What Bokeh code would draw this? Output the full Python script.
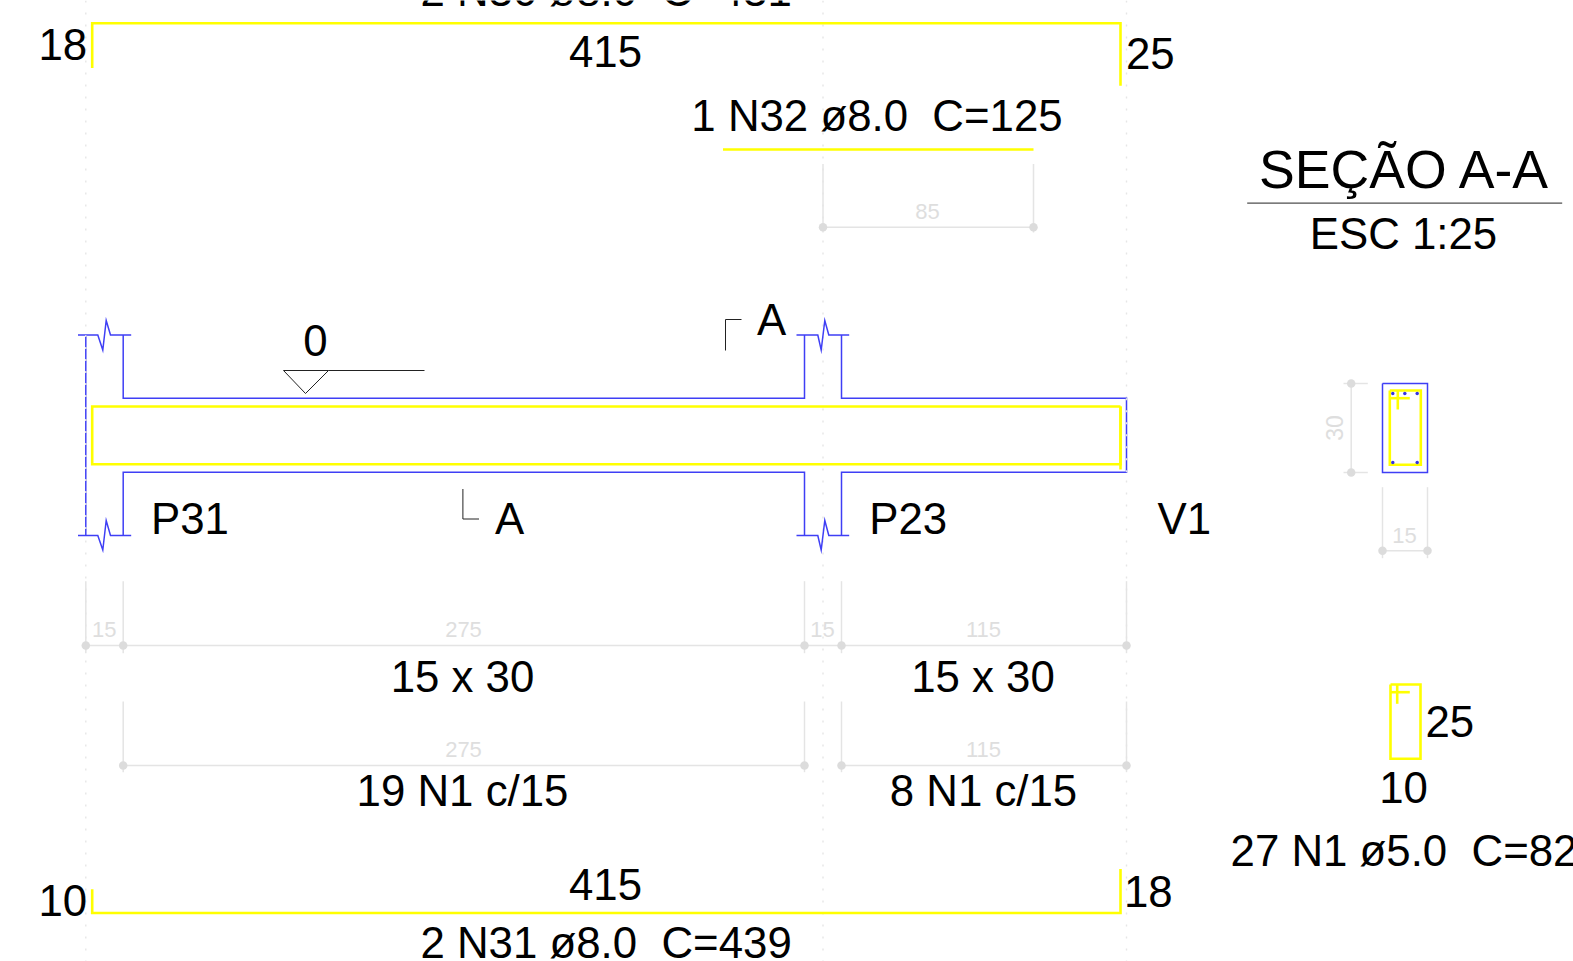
from bokeh.plotting import figure
from bokeh.embed import file_html
from bokeh.resources import INLINE
from bokeh.core.properties import value

# Drawing geometry (polylines: xs, ys)
blue_lines = [
    ([77.5, 97.3, 102.3, 105.7, 110, 130.7], [334.5, 334.5, 349.5, 320, 334.5, 334.5]),
    ([77.5, 97.3, 102.3, 105.7, 110, 130.7], [535, 535, 549.5, 520, 535, 535]),
    ([85.3, 85.3], [334.5, 535]),
    ([122.7, 122.7, 804, 804], [334.5, 397.7, 397.7, 334.5]),
    ([122.7, 122.7, 804, 804], [535, 471.7, 471.7, 535]),
    ([796, 817.3, 820.7, 824.3, 828.3, 848.7], [334.5, 334.5, 349.5, 320, 334.5, 334.5]),
    ([796, 817.3, 820.7, 824.3, 828.3, 848.7], [535, 535, 549.5, 520, 535, 535]),
    ([841, 841, 1126, 1126, 841, 841], [334.5, 397.7, 397.7, 471.7, 471.7, 535]),
    ([1382, 1427, 1427, 1382, 1382], [383, 383, 472, 472, 383]),
]
yellow_lines = [
    ([91.7, 91.7, 1120, 1120], [67.5, 22.7, 22.7, 85.3]),
    ([722.5, 1033], [149, 149]),
    ([1120, 91.7, 91.7, 1120, 1120], [406, 406, 463.7, 463.7, 406]),
    ([1120, 1120], [406, 469]),
    ([91.7, 91.7, 1120, 1120], [888.7, 912.5, 912.5, 868.6]),
    ([1389.3, 1420.3, 1420.3, 1389.3, 1389.3], [390, 390, 464.3, 464.3, 390]),
    ([1389.3, 1409.3], [397.7, 397.7]),
    ([1397.3, 1397.3], [390, 409]),
    ([1390, 1420, 1420, 1390, 1390], [684, 684, 758.3, 758.3, 684]),
    ([1390, 1409.3], [691.7, 691.7]),
    ([1396.7, 1396.7], [684, 703.3]),
]
black_lines = [
    ([283, 328, 305, 283], [370, 370, 393, 370]),
    ([328, 424], [370, 370]),
    ([725, 725, 741], [350, 319, 319]),
    ([462.4, 462.4, 478.5], [488.5, 518.5, 518.5]),
    ([1246.7, 1561.7], [202.6, 202.6]),
]
gray_lines = [
    ([822.5, 822.5], [163.5, 232]), ([1033, 1033], [163.5, 232]), ([822.5, 1033], [226.7, 226.7]),
    ([85.3, 85.3], [580.7, 652.7]), ([122.7, 122.7], [580.7, 652.7]), ([804, 804], [580.7, 652.7]),
    ([841, 841], [580.7, 652.7]), ([1126, 1126], [580.7, 652.7]), ([85.3, 1126], [645, 645]),
    ([122.7, 122.7], [701, 771.7]), ([804, 804], [701, 771.7]), ([841, 841], [701, 771.7]),
    ([1126, 1126], [701, 771.7]), ([122.7, 804], [765, 765]), ([841, 1126], [765, 765]),
    ([1350.7, 1350.7], [383, 472]), ([1343, 1367.3], [383, 383]), ([1343, 1367.3], [472, 472]),
    ([1382, 1382], [486.7, 557.7]), ([1427, 1427], [486.7, 557.7]), ([1382, 1427], [550.3, 550.3]),
]
dotted_x = [85.3, 822.5, 1126]
dim_dot_x = [822.5, 1033, 85.3, 122.7, 804, 841, 1126, 122.7, 804, 841, 1126, 1350.7, 1350.7, 1382, 1427]
dim_dot_y = [226.7, 226.7, 645, 645, 645, 645, 645, 765, 765, 765, 765, 383, 472, 550.3, 550.3]
rebar_x = [1392.3, 1404.3, 1416.7, 1392.3, 1416.7]
rebar_y = [393, 393, 393, 462, 462]

# Labels: text, x, y (alphabetic baseline)
center_labels = [
    ("2 N30 ø8.0\u00a0\u00a0C=431", 605.6, 7.5), ("415", 605, 68.5),
    ("1 N32 ø8.0\u00a0\u00a0C=125", 876.5, 132), ("ESC 1:25", 1403, 250.5),
    ("A", 771, 336.5), ("0", 315, 357), ("A", 509, 535.5),
    ("15 x 30", 462, 693.5), ("15 x 30", 982.5, 693.5),
    ("19 N1 c/15", 462, 807), ("8 N1 c/15", 983, 807),
    ("10", 1403, 804), ("27 N1 ø5.0\u00a0\u00a0C=82", 1403.5, 867.5),
    ("415", 605, 901), ("2 N31 ø8.0\u00a0\u00a0C=439", 605.6, 959),
    ("18", 62.3, 61), ("10", 62.3, 917),
]
left_labels = [
    ("25", 1125.5, 70.5), ("P31", 150.5, 535.5), ("P23", 868.8, 535.5), ("V1", 1157, 535.5),
    ("25", 1425, 738), ("18", 1123.5, 908),
]
dim_labels = [
    ("85", 927, 220), ("15", 103.7, 637.5), ("275", 463, 637.5), ("15", 822, 637.5), ("115", 983, 637.5),
    ("275", 463, 757.5), ("115", 983, 757.5), ("15", 1404, 544),
]
rot_label = ("30", 1334, 427.5)
title_label = ("SEÇÃO A-A", 1404.5, 189.5)

FONT = value("Liberation Sans")
DOT = "2 10"
p = figure(width=1573, height=961, x_range=(0, 1573), y_range=(961, 0),
           output_backend="svg", toolbar_location=None, min_border=0,
           x_axis_type=None, y_axis_type=None, background_fill_color="white",
           border_fill_color="white", outline_line_color=None)
p.grid.visible = False
p.styles = {"position": "absolute", "left": "0px", "top": "0px"}

for x in dotted_x:
    p.line([x, x], [0, 961], line_color="#e6e6e6", line_width=1.4, line_dash=DOT)
for xs, ys in gray_lines:
    p.line(xs, ys, line_color="#e4e4e4", line_width=1.5)
p.scatter(dim_dot_x, dim_dot_y, size=8.5, color="#dcdcdc", line_color=None)
for xs, ys in black_lines:
    p.line(xs, ys, line_color="#222222", line_width=1)
for xs, ys in yellow_lines:
    p.line(xs, ys, line_color="#ffff00", line_width=2.6, line_join="miter")
for xs, ys in blue_lines:
    p.line(xs, ys, line_color="#3f3ff5", line_width=1.5, line_join="miter")
p.line([1126, 1126], [397.7, 471.7], line_color="#e6e6e6", line_width=1.4, line_dash=DOT)
p.line([85.3, 85.3], [334.5, 535], line_color="#e6e6e6", line_width=1.4, line_dash=DOT)
p.scatter(rebar_x, rebar_y, size=3.5, color="#3535e0", line_color=None)


def put(items, color, size, align, angle=0.0, lift=0.39):
    p.text([i[1] for i in items], [i[2] for i in items], text=[i[0] for i in items],
           text_font=FONT, text_font_size=value(f"{size}px"), text_color=color,
           text_align=align, text_baseline="alphabetic", angle=angle,
           y_offset=-lift * size)


put(center_labels, "#000000", 43.8, "center")
put(left_labels, "#000000", 43.8, "left")
put([title_label], "#000000", 53.6, "center")
put(dim_labels, "#dedede", 22, "center")
put([rot_label], "#dedede", 23, "center", angle=1.5708, lift=0)

open("out.html", "w").write(file_html(p, INLINE))
